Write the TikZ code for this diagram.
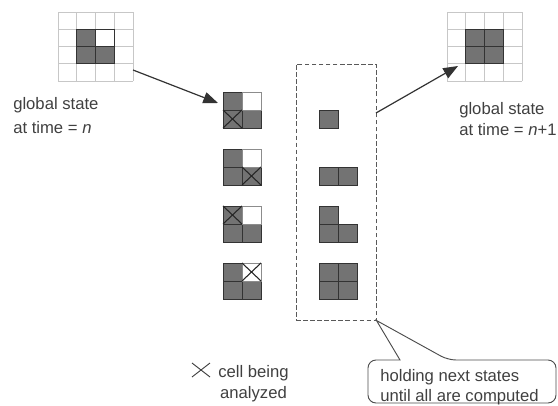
\documentclass[tikz,border=0pt]{standalone}
\usepackage{fontspec}
\setmainfont{Liberation Sans}
\usetikzlibrary{arrows.meta}

\tikzset{
  gridline/.style={draw=black!22, line width=0.6pt},
  darkcell/.style={draw=black!80, fill=black!55, line width=0.7pt},
  whitecell/.style={draw=black!45, fill=white, line width=0.7pt},
  crossline/.style={draw=black!85, line width=0.8pt},
  flowarrow/.style={draw=black!80, line width=0.9pt, -{Triangle[length=11pt,width=8.5pt]}},
  bufferbox/.style={draw=black!65, dash pattern=on 3.5pt off 1.8pt, line width=0.7pt,
    minimum width=60pt, minimum height=192pt, inner sep=0pt},
  noteline/.style={draw=black!70, line width=0.7pt},
  labeltext/.style={inner sep=0pt, anchor=north west, align=left, text=black!75,
    font=\fontsize{12.5}{16}\selectfont},
}

\begin{document}
\begin{tikzpicture}[x=0.75pt,y=0.75pt,yscale=-1,xscale=1]
        \useasboundingbox (0,0) rectangle (558,405);
        % global state at time n
        \foreach \k in {0,...,4}{
          \draw[gridline] (58+18.75*\k,12) -- ++(0,69);
          \draw[gridline] (58,12+17.25*\k) -- ++(75,0);
        }
        \draw[darkcell] (76.75,29.25) rectangle ++(18.75,17.25);
        \draw[darkcell] (76.75,46.5) rectangle ++(18.75,17.25);
        \draw[darkcell] (95.5,46.5) rectangle ++(18.75,17.25);
        \draw[draw=black!80, line width=0.7pt] (95.5,29.25) rectangle ++(18.75,17.25);
        \node[labeltext] (nowlabel) at (13,97) {global state\\[2pt]at time = \textit{n}};

        % global state at time n+1
        \foreach \k in {0,...,4}{
          \draw[gridline] (447+18.75*\k,12) -- ++(0,69);
          \draw[gridline] (447,12+17.25*\k) -- ++(75,0);
        }
        \draw[darkcell] (465.75,29.25) rectangle ++(18.75,17.25);
        \draw[darkcell] (484.5,29.25) rectangle ++(18.75,17.25);
        \draw[darkcell] (465.75,46.5) rectangle ++(18.75,17.25);
        \draw[darkcell] (484.5,46.5) rectangle ++(18.75,17.25);
        \node[labeltext] (nextlabel) at (459,102) {global state\\at time = \textit{n}+1};

        % cells being analyzed, one after another
        \foreach \t/\i/\j in {92/0/1, 149/1/1, 206/0/0, 263/1/0}{
          \draw[darkcell] (223,\t) rectangle ++(19,18);
          \draw[darkcell] (223,\t+18) rectangle ++(19,18);
          \draw[darkcell] (242,\t+18) rectangle ++(19,18);
          \draw[whitecell] (242,\t) rectangle ++(19,18);
          \draw[crossline] (223+19*\i,\t+18*\j) -- ++(19,18) (242+19*\i,\t+18*\j) -- ++(-19,18);
        }

        % next states held back
        \node[bufferbox] (buffer) at (336,192) {};
        \draw[darkcell] (319,110) rectangle ++(19,18);
        \draw[darkcell] (319,167) rectangle ++(19,18);
        \draw[darkcell] (338,167) rectangle ++(19,18);
        \draw[darkcell] (319,206) rectangle ++(19,18);
        \draw[darkcell] (319,224) rectangle ++(19,18);
        \draw[darkcell] (338,224) rectangle ++(19,18);
        \draw[darkcell] (319,263) rectangle ++(19,18);
        \draw[darkcell] (338,263) rectangle ++(19,18);
        \draw[darkcell] (319,281) rectangle ++(19,18);
        \draw[darkcell] (338,281) rectangle ++(19,18);

        % arrows
        \coordinate (nowout) at (133,70);
        \coordinate (cellsin) at (218,103);
        \coordinate (bufout) at (376,113);
        \coordinate (nextin) at (458,66);
        \draw[flowarrow] (nowout) -- (cellsin);
        \draw[flowarrow] (bufout) -- (nextin);

        % legend
        \draw[draw=black!75, line width=0.7pt] (192,363) -- (210,377) (192,377) -- (210,363);
        \node[labeltext, align=center] (legend) at (218,365) {cell being\\analyzed};

        % callout
        \draw[noteline, rounded corners=6] (400,360) -- (368,360) -- (368,403) -- (556,403) -- (556,360) -- (448,360) [sharp corners] -- (buffer.south east) -- cycle;
        \node[labeltext, font=\fontsize{12.5}{15}\selectfont] (note) at (380,369) {holding next states\\until all are computed};
    \end{tikzpicture}
\end{document}
